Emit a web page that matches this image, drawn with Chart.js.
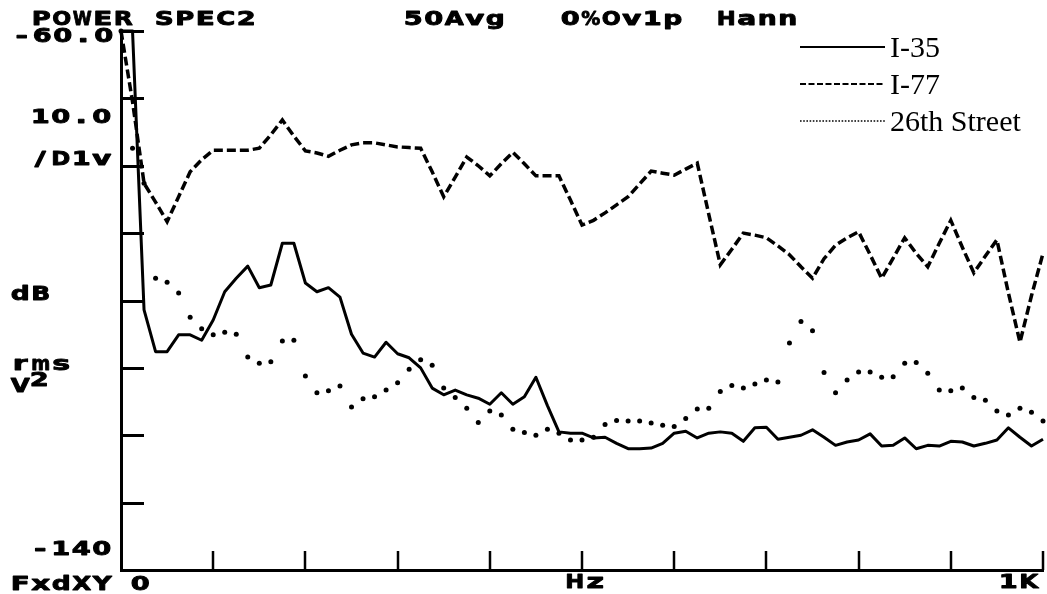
<!DOCTYPE html>
<html>
<head>
<meta charset="utf-8">
<script src="https://cdn.jsdelivr.net/npm/chart.js@4.4.1/dist/chart.umd.min.js"></script>
<style>
  html, body { margin: 0; padding: 0; background: #fff; }
  #wrap { width: 1047px; height: 594px; position: relative; }
</style>
</head>
<body>
<div id="wrap"><canvas id="spec" width="1047" height="594"></canvas></div>
<script>
// Frequency bins (Hz), 12.5 Hz resolution over a 1 kHz span
const freqHz = [0,12.5,25,37.5,50,62.5,75,87.5,100,112.5,125,137.5,150,162.5,175,187.5,
  200,212.5,225,237.5,250,262.5,275,287.5,300,312.5,325,337.5,350,362.5,375,387.5,
  400,412.5,425,437.5,450,462.5,475,487.5,500,512.5,525,537.5,550,562.5,575,587.5,
  600,612.5,625,637.5,650,662.5,675,687.5,700,712.5,725,737.5,750,762.5,775,787.5,
  800,812.5,825,837.5,850,862.5,875,887.5,900,912.5,925,937.5,950,962.5,975,987.5,1000];

// Power spectra, dB rms V^2
const i35 = [-60,-60,-101.4,-107.6,-107.6,-105.1,-105.1,-105.9,-102.9,-98.7,
  -96.7,-94.9,-98.1,-97.7,-91.5,-91.5,-97.4,-98.7,-98.1,-99.5,
  -105.0,-107.8,-108.4,-106.2,-107.9,-108.5,-110.0,-113.0,-114.0,-113.3,
  -114.0,-114.5,-115.4,-113.7,-115.4,-114.3,-111.4,-115.6,-119.5,-119.7,
  -119.7,-120.4,-120.3,-121.2,-122.0,-122.0,-121.9,-121.2,-119.7,-119.4,
  -120.4,-119.7,-119.5,-119.7,-120.9,-118.9,-118.8,-120.6,-120.3,-120.0,
  -119.2,-120.3,-121.5,-121.0,-120.7,-119.8,-121.6,-121.5,-120.4,-122.0,
  -121.5,-121.6,-120.9,-121.0,-121.6,-121.2,-120.7,-118.9,-120.3,-121.6,
  -120.6];

const i77 = [-60,-70.5,-82.6,-85.4,-88.3,-84.6,-80.9,-79.1,-77.7,-77.7,
  -77.7,-77.7,-77.4,-75.4,-73.2,-75.6,-77.8,-78.1,-78.6,-77.7,
  -76.9,-76.6,-76.6,-76.9,-77.2,-77.3,-77.4,-80.9,-84.6,-81.7,
  -78.7,-80.0,-81.5,-79.7,-78.0,-79.7,-81.5,-81.5,-81.5,-85.1,
  -88.8,-88.1,-87.0,-85.8,-84.6,-82.7,-80.8,-81.1,-81.4,-80.5,
  -79.6,-87.2,-94.7,-92.4,-90.0,-90.3,-90.7,-91.9,-93.2,-95.0,
  -96.7,-93.8,-91.8,-90.7,-89.8,-93.2,-96.7,-93.7,-90.7,-93.0,
  -95.0,-91.5,-88.1,-92.1,-95.9,-93.4,-91.0,-98.9,-106.2,-99.3,
  -93.0];

const street26 = [-60,-77.4,-82.6,-96.7,-97.3,-98.9,-102.5,-104.2,-105.1,-104.7,
  -105.0,-108.4,-109.3,-109.1,-106.0,-105.9,-111.2,-113.7,-113.4,-112.7,
  -115.8,-114.6,-114.3,-113.3,-112.2,-110.2,-108.8,-109.6,-113.0,-114.4,
  -116.0,-118.1,-116.4,-117.0,-119.1,-119.6,-120.0,-119.1,-119.7,-120.7,
  -120.7,-120.3,-118.4,-117.8,-117.9,-117.9,-118.2,-118.5,-118.7,-117.5,
  -116.1,-116.0,-113.5,-112.6,-113.0,-112.4,-111.8,-112.1,-106.3,-103.1,
  -104.5,-110.7,-113.7,-111.8,-110.6,-110.6,-111.4,-111.3,-109.3,-109.2,
  -110.8,-113.3,-113.4,-113.0,-114.4,-114.8,-116.4,-117.0,-116.0,-116.6,
  -117.9];

const seriesNames = ['I-35', 'I-77', '26th Street'];
const headerItems = ['POWER SPEC2', '50Avg', '0%Ov1p', 'Hann'];

const pts = arr => freqHz.map((f, i) => ({ x: f, y: arr[i] }));

// Plotter-style lettering: every character sits in a fixed-width cell,
// glyphs widened to fill it
const HP_FONT = 'bold 20px "DejaVu Sans"';
const HP_PITCH = 20.5;
const HP_SX = 1.5;
const HP_MAXW = 19;
function hpText(ctx, txt, x, y, align) {
  const total = txt.length * HP_PITCH;
  const left = align === 'right' ? x - total : align === 'center' ? x - total / 2 : x;
  ctx.save();
  ctx.font = HP_FONT;
  ctx.textAlign = 'left';
  ctx.textBaseline = 'alphabetic';
  ctx.fillStyle = '#000';
  ctx.strokeStyle = '#000';
  ctx.lineJoin = 'round';
  [...txt].forEach((ch, k) => {
    if (ch === ' ') return;
    const w = ctx.measureText(ch).width;
    const sx = Math.min(HP_SX, HP_MAXW / w);
    const cx = left + k * HP_PITCH + (HP_PITCH - w * sx) / 2;
    ctx.save();
    ctx.translate(cx, y);
    ctx.scale(sx, 1);
    ctx.lineWidth = 0.9;
    ctx.fillText(ch, 0, 0);
    ctx.strokeText(ch, 0, 0);
    ctx.restore();
  });
  ctx.restore();
}

// Short tick marks pointing into the plot from both axes
const innerTicks = {
  id: 'innerTicks',
  beforeDatasetsDraw(chart) {
    const { ctx, chartArea: a, scales: { x, y } } = chart;
    ctx.save();
    ctx.strokeStyle = '#000';
    ctx.lineCap = 'butt';
    ctx.lineWidth = 3;
    y.ticks.forEach(t => {
      if (t.value <= y.min) return;
      const py = Math.round(y.getPixelForValue(t.value)) + 0.5;
      ctx.beginPath(); ctx.moveTo(a.left, py); ctx.lineTo(a.left + 23, py); ctx.stroke();
    });
    ctx.lineWidth = 2.5;
    x.ticks.forEach(t => {
      if (t.value <= x.min) return;
      const px = Math.round(x.getPixelForValue(t.value));
      ctx.beginPath(); ctx.moveTo(px, a.bottom); ctx.lineTo(px, a.bottom - 19); ctx.stroke();
    });
    ctx.restore();
  }
};

// Header, axis annotations and legend
const annotations = {
  id: 'annotations',
  afterDraw(chart) {
    const { ctx, chartArea: a, scales: { x, y } } = chart;
    hpText(ctx, headerItems[0], 31, 25);
    hpText(ctx, headerItems[1], 403, 25);
    hpText(ctx, headerItems[2], 560, 25);
    hpText(ctx, headerItems[3], 716, 25);

    hpText(ctx, '-60.0', a.left - 7, y.getPixelForValue(-60) + 11, 'right');
    hpText(ctx, '10.0', a.left - 9, 123, 'right');
    hpText(ctx, '/D1v', a.left - 9, 165, 'right');
    hpText(ctx, 'dB', 10, 300);
    hpText(ctx, 'rms', 10, 370);
    hpText(ctx, 'V', 10, 392);
    hpText(ctx, '2', 29, 386);
    hpText(ctx, '-140', a.left - 9, y.getPixelForValue(-140) - 15, 'right');
    hpText(ctx, 'FxdXY', 10, 590);
    hpText(ctx, '0', x.getPixelForValue(0) + 9, 590);
    hpText(ctx, 'Hz', x.getPixelForValue(500) + 3, 588, 'center');
    hpText(ctx, '1K', x.getPixelForValue(1000) - 4, 588, 'right');

    // legend
    const rows = [47, 84, 121];
    ctx.save();
    ctx.strokeStyle = '#000';
    chart.data.datasets.forEach((ds, i) => {
      const yy = rows[i];
      ctx.beginPath();
      ctx.lineWidth = i === 2 ? 1.6 : 2;
      ctx.setLineDash(i === 0 ? [] : i === 1 ? [6, 2.5] : [1.6, 1.6]);
      ctx.moveTo(800, yy); ctx.lineTo(885, yy); ctx.stroke();
      ctx.setLineDash([]);
      ctx.fillStyle = '#000';
      ctx.font = '30px "Liberation Serif"';
      ctx.textBaseline = 'alphabetic';
      ctx.fillText(ds.label, 890, yy + 10);
    });
    ctx.restore();
  }
};

new Chart(document.getElementById('spec'), {
  type: 'line',
  data: {
    datasets: [
      { label: seriesNames[0], data: pts(i35), borderColor: '#000', borderWidth: 3,
        pointRadius: 0, tension: 0, borderJoinStyle: 'round', clip: false },
      { label: seriesNames[1], data: pts(i77), borderColor: '#000', borderWidth: 3.5,
        borderDash: [9, 4], borderCapStyle: 'butt', pointRadius: 0, tension: 0, clip: false },
      { label: seriesNames[2], data: pts(street26), showLine: false, pointRadius: 2.5,
        pointBackgroundColor: '#000', pointBorderWidth: 0, clip: false }
    ]
  },
  options: {
    responsive: false,
    animation: false,
    devicePixelRatio: 1,
    layout: { padding: { left: 121, right: 3, top: 31, bottom: 24 } },
    plugins: { legend: { display: false }, tooltip: { enabled: false } },
    scales: {
      x: {
        type: 'linear', min: 0, max: 1000,
        ticks: { display: false, stepSize: 100 },
        grid: { display: false, drawTicks: false },
        border: { display: true, color: '#000', width: 3 }
      },
      y: {
        min: -140, max: -60,
        ticks: { display: false, stepSize: 10 },
        grid: { display: false, drawTicks: false },
        border: { display: true, color: '#000', width: 3 }
      }
    }
  },
  plugins: [innerTicks, annotations]
});
</script>
</body>
</html>
